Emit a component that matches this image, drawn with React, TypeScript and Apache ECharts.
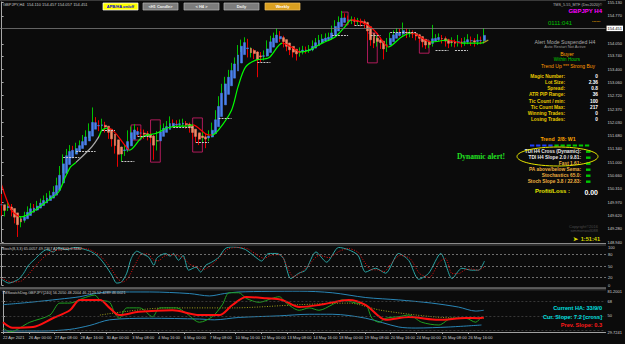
import React, { useEffect, useRef } from 'react';
import * as echarts from 'echarts';

// ---------- DATA ----------
const opens = [
  150.10,149.70,149.82,149.88,149.66,149.50,149.40,149.52,149.64,149.74,
  149.85,149.80,149.92,149.96,150.04,150.10,150.16,150.28,150.50,150.80,
  151.10,151.22,151.32,151.30,151.38,151.46,151.58,151.70,151.86,152.05,
  151.98,151.92,151.97,151.85,151.70,151.52,151.37,151.12,151.30,151.34,
  151.70,151.80,151.84,151.76,151.74,151.70,151.66,151.62,151.37,151.70,
  151.84,151.88,151.92,152.02,151.98,151.97,151.99,152.00,151.94,151.84,
  151.72,151.63,151.58,151.66,151.62,151.71,151.92,152.25,152.62,152.93,
  153.10,153.26,153.45,153.60,153.91,154.05,154.12,153.78,153.85,153.78,
  153.73,153.70,153.78,154.04,154.15,154.22,154.30,154.18,154.04,153.95,
  153.86,153.83,153.80,153.86,153.91,153.88,153.91,154.04,154.10,154.17,
  154.17,154.20,154.22,154.43,154.55,154.64,154.74,154.70,154.64,154.66,
  154.61,154.64,154.60,154.56,154.22,154.10,154.04,154.17,154.02,153.91,
  154.12,154.25,154.30,154.35,154.33,154.38,154.30,154.32,154.30,154.22,
  154.17,154.04,154.00,154.04,154.17,154.20,154.22,154.17,154.10,154.04,
  154.09,154.05,154.12,154.08,154.12,154.17,154.12,154.09,154.17,154.110,
];
const highs = [
  150.18,149.90,149.98,149.92,149.74,149.58,149.60,149.72,149.86,149.94,
  149.92,150.00,150.06,150.14,150.20,150.26,150.38,150.60,150.90,151.20,
  151.34,151.44,151.42,151.50,151.56,151.70,151.82,152.00,152.41,152.16,
  152.08,152.12,152.04,151.92,151.78,151.60,151.44,151.40,151.46,151.82,
  151.92,151.98,151.90,151.86,151.84,151.80,151.76,151.70,151.80,151.96,
  152.00,152.06,152.18,152.10,152.08,152.10,152.12,152.06,152.02,151.90,
  151.80,151.72,151.78,151.74,151.82,152.02,152.34,152.70,153.02,153.20,
  153.38,153.56,153.70,154.02,154.16,154.22,154.18,153.96,153.92,153.86,
  153.84,153.88,154.14,154.26,154.34,154.45,154.38,154.26,154.10,154.02,
  153.96,153.92,153.96,154.00,153.98,154.02,154.14,154.20,154.28,154.30,
  154.32,154.34,154.52,154.66,154.76,154.90,154.84,154.78,154.76,154.74,
  154.72,154.70,154.68,154.62,154.30,154.20,154.26,154.22,154.10,154.20,
  154.34,154.40,154.46,154.44,154.60,154.44,154.42,154.40,154.36,154.30,
  154.24,154.12,154.14,154.54,154.30,154.32,154.28,154.24,154.18,154.22,
  154.16,154.28,154.20,154.22,154.30,154.24,154.20,154.30,154.24,154.457,
];
const lows = [
  149.62,149.60,149.74,149.60,149.42,149.07,149.32,149.44,149.58,149.66,
  149.70,149.74,149.84,149.90,149.96,150.02,150.08,150.20,150.44,150.72,
  151.00,151.12,151.18,151.22,151.30,151.38,151.50,151.62,151.78,151.88,
  151.80,151.84,151.76,151.60,151.40,151.22,150.88,151.02,151.16,151.26,
  151.62,151.70,151.66,151.64,151.60,151.56,151.50,151.06,151.30,151.62,
  151.76,151.80,151.86,151.90,151.88,151.90,151.92,151.86,151.76,151.60,
  151.50,151.44,151.50,151.36,151.54,151.64,151.86,152.18,152.54,152.84,
  153.02,153.18,153.38,153.52,153.84,153.94,153.70,153.70,153.66,153.19,
  153.58,153.62,153.72,153.96,154.08,154.14,154.10,153.96,153.86,153.76,
  153.70,153.62,153.72,153.78,153.80,153.82,153.86,153.98,154.02,154.06,
  154.10,154.12,154.16,154.36,154.48,154.58,154.60,154.54,154.56,154.52,
  154.54,154.50,154.46,154.14,154.00,153.94,153.98,153.92,153.65,153.84,
  154.06,154.18,154.22,154.24,154.26,154.20,154.22,154.20,154.14,154.08,
  153.96,153.92,153.94,153.98,154.10,154.12,154.06,153.98,153.94,153.98,
  153.96,153.98,153.96,154.00,154.04,154.00,153.98,154.02,154.04,154.057,
];
const closes = [
  149.70,149.82,149.88,149.66,149.50,149.40,149.52,149.64,149.74,149.85,
  149.80,149.92,149.96,150.04,150.10,150.16,150.28,150.50,150.80,151.10,
  151.22,151.32,151.30,151.38,151.46,151.58,151.70,151.86,152.05,151.98,
  151.92,151.97,151.85,151.70,151.52,151.37,151.12,151.30,151.34,151.70,
  151.80,151.84,151.76,151.74,151.70,151.66,151.62,151.37,151.70,151.84,
  151.88,151.92,152.02,151.98,151.97,151.99,152.00,151.94,151.84,151.72,
  151.63,151.58,151.66,151.62,151.71,151.92,152.25,152.62,152.93,153.10,
  153.26,153.45,153.60,153.91,154.05,154.12,153.78,153.85,153.78,153.73,
  153.70,153.78,154.04,154.15,154.22,154.30,154.18,154.04,153.95,153.86,
  153.83,153.80,153.86,153.91,153.88,153.91,154.04,154.10,154.17,154.17,
  154.20,154.22,154.43,154.55,154.64,154.74,154.70,154.64,154.66,154.61,
  154.64,154.60,154.56,154.22,154.10,154.04,154.17,154.02,153.91,154.12,
  154.25,154.30,154.35,154.33,154.38,154.30,154.32,154.30,154.22,154.17,
  154.04,154.00,154.04,154.17,154.20,154.22,154.17,154.10,154.04,154.09,
  154.05,154.12,154.08,154.12,154.17,154.12,154.09,154.17,154.11,154.451,
];

// moving average: [bar, price]
const maPoints = [
  [0,150.41],[3,149.77],[6,149.59],[9,149.69],[14.5,150.02],[17.6,150.23],[19.7,150.62],[21.3,150.88],
  [22.8,150.98],[27.8,151.39],[30,151.65],[31,151.83],[33,151.88],[38.5,151.39],[39.5,151.31],[43.5,151.65],
  [48,151.75],[51,151.88],[55,151.93],[57,151.93],[59,151.96],[64,151.70],[65,151.70],[67,151.83],
  [71,152.34],[73,152.94],[75.3,153.45],[78.5,153.63],[82.5,153.69],[86.7,154.07],[91,153.89],[92,153.84],
  [95,153.89],[99,154.07],[103,154.23],[106,154.49],[108,154.67],[113,154.54],[115.5,154.36],[117.4,154.15],
  [119.4,153.97],[123.5,154.23],[126.5,154.33],[132.7,154.10],[138,154.15],[142,154.07],[148,154.07],[150.3,154.15],
];
// MA trend changes: [fromBar, trend]
const maTrend = [
  [0,'down'],[5.5,'up'],[23,'flat'],[30,'up'],[33,'down'],[39.5,'up'],[59,'down'],[65,'up'],[86.7,'down'],
  [92,'up'],[108,'down'],[119.4,'up'],[126.5,'down'],[132.7,'up'],[138,'down'],[142,'up'],[148.5,'end'],
];
// short horizontal levels: [fromBar, toBar, price]
const levelSegs = [
  [23,29,151.29],[37,41,151.03],[19,24,151.13],[31,35,151.83],[60,64,151.52],[67,71,152.14],[42,46,151.67],
  [53,59,151.91],[79,83,153.58],[109,112,154.54],[114,117,154.28],[134,138,153.89],[140,144,153.89],
  [120,128,154.36],[102,107,154.28],
];
// brackets: [fromBar, toBar, low, high]
const brackets = [
  [40,43,151.57,151.96],[46,49,151.0,152.09],[59,62,151.26,152.14],[105,107,154.54,154.87],
  [113,116,153.56,154.33],[129,132,153.81,154.15],
];

const stochMain = [
  [0,15],[2.2,5],[5.2,15],[6.8,31],[8.3,52],[10.5,70],[12,83],[13.9,93],[16,87],[17.6,98],[19.8,93],[22.8,99],
  [25.9,93],[27.8,87],[30,73],[32,52],[34,26],[35.5,5],[37,8],[38.6,31],[40,70],[41.7,89],[43.2,83],[45.4,73],
  [47,52],[47.8,70],[49,78],[50.6,83],[52,76],[53,83],[54.6,65],[56,78],[57.7,39],[60,47],[61.4,34],[63,52],
  [64.8,60],[67,73],[69,96],[71,100],[73,99],[75.3,93],[78.4,73],[80.2,63],[82.4,83],[84.9,83],[87,70],[89.2,17],
  [91.7,31],[93.8,39],[97,87],[100.3,60],[104,99],[107,93],[110,78],[112.3,34],[115.4,44],[118.5,31],[122.5,83],
  [125.6,65],[128.7,15],[131.8,31],[135.5,83],[139,17],[142,44],[145,39],[147.2,39],[149,63],
];
const stochSignal = [
  [0,18],[3,8],[6,10],[8,25],[10,45],[12,65],[14,80],[16,90],[18,92],[20,96],[23,96],[26,96],[28,90],[30,80],
  [32,63],[34,40],[36,15],[37.5,8],[39,18],[41,50],[43,80],[45,82],[47,65],[48.5,64],[50,75],[52,80],[54,78],
  [56,72],[58,55],[60,48],[62,40],[64,48],[66,62],[68,80],[70,95],[73,99],[76,95],[79,78],[81,70],[83,78],
  [86,80],[88,50],[90,22],[92,30],[95,55],[98,78],[101,72],[104,88],[107,96],[110,86],[112,60],[114,40],
  [116,40],[118,35],[120,55],[123,78],[126,70],[129,30],[132,20],[135,60],[137,70],[139,30],[141,30],[143,40],
  [145,42],[147,39],[149,48],
];
const stochLevels = [80, 50, 20];

const tmsUpper = [[0,64],[8.3,67],[17.6,71],[23.8,74],[28.4,78],[33,80],[45.4,80],[57.7,78],[63.9,75],[68.5,78],[73,80],[91.7,81],[101.9,79],[112.3,73],[122.5,70],[132.7,66],[141,61],[146.3,56],[148.8,57]];
const tmsLower = [[0,31],[12,31],[20.7,33],[26.9,38],[33,45],[45.4,47],[60.8,46],[65.4,45],[73,48],[85.5,50],[94.8,52],[101.9,52],[112.3,47],[122.5,36],[127.8,34.7],[138,36],[148.1,38.5]];
const tmsRed = [[0,42],[3,35],[9.3,36],[15.4,47],[20.7,57],[23.8,70],[30,70],[33,60],[36,51],[42,55],[52.5,57],[60.8,51],[67,51],[71,63.6],[75.3,73.7],[81.5,72],[86.4,70],[91.7,61],[97.8,63.6],[107,70],[112.3,63.6],[118.5,45],[125.6,48.6],[134.9,45],[143.2,47.3],[147.2,47],[148.8,48]];
const tmsGreen = [[0,35],[2.2,30],[8.3,42],[14.5,51],[17.6,66],[20.7,66],[24.7,72],[28.4,76],[30,70],[33,67],[34.6,53],[36,47],[38.3,60],[42.3,60],[46.3,49],[48.5,60],[53.7,60],[56.8,53],[60.8,42],[64.8,49],[67.9,64],[70,79],[73,79],[75.3,72],[79.3,67],[83.3,72],[85.5,74],[87.7,66],[91.7,57],[94.8,60],[97.8,57],[101.9,64],[105,70],[109.3,66],[112.3,64],[114.2,47],[116.4,42],[118.5,47],[122.5,49],[125.6,51],[129.6,42],[134.9,38.5],[138.9,47],[143.2,47],[146.3,42],[148.1,49]];
const tmsYellow = [[30,51],[50.6,60],[71,60],[91.7,64],[107,66],[117,57],[132.7,49],[143.2,47],[148.8,47]];
const tmsLevels = [68, 50, 32];

const priceTicks = [155.13,154.77,154.05,153.74,153.40,153.06,152.72,152.37,152.03,151.68,151.34,151.00,150.66,150.31,149.97,149.62,149.28,148.94];
const stochTicks = [100, 80, 50, 20, 0];
const tmsTicks = [81.2001, 68, 50, 29.7241];
const xTickLabels = ['22 Apr 2021','26 Apr 00:00','27 Apr 08:00','28 Apr 16:00','30 Apr 00:00','3 May 08:00','4 May 16:00','6 May 00:00','7 May 08:00','10 May 16:00','12 May 00:00','13 May 08:00','14 May 16:00','18 May 00:00','19 May 08:00','20 May 16:00','24 May 00:00','25 May 08:00','26 May 16:00'];
const BARS_PER_LABEL = 8;
const SLOTS = 187;

const infoLabels = ['Magic Number:','Lot Size:','Spread:','ATR PIP Range:','Tic Count / min:','Tic Count Max:','Winning Trades:','Losing Trades:'];
const infoValues = ['0','2.36','0.8','36','100','217','0','0'];
const signalRows = ['TDI H4 Cross (Dynamic):','TDI H4 Slope 2.0 / 9.81:','Fast 1.61:','PA above/below Sema:','Stochastics 65.0:','Stoch Slope 3.8 / 22.83:'];
const trendBoxes = ['b','b','b','b','g','g','g','g','g','g'];

// ---------- CHART ----------
const F = 'Liberation Sans, Arial, Helvetica, sans-serif';
const BG = '#0b0b0b';

function T(x: number, y: number, text: string, fill: string, fontSize: number, extra: any = {}) {
  const align = extra.align || 'left';
  return {
    type: 'text', x, y, silent: true, z: 100,
    style: {
      text, fill, fontSize, fontFamily: extra.fontFamily || F, fontWeight: extra.fontWeight || 'normal',
      align, textAlign: align, verticalAlign: 'middle', textVerticalAlign: 'middle',
    },
  };
}
function R(x: number, y: number, w: number, h: number, fill: string, stroke?: string) {
  return { type: 'rect', silent: true, z: 99, shape: { x, y, width: w, height: h }, style: { fill, stroke: stroke || null, lineWidth: stroke ? 0.7 : 0 } };
}
function L(x1: number, y1: number, x2: number, y2: number, stroke: string, w = 1) {
  return { type: 'line', silent: true, z: 99, shape: { x1, y1, x2, y2 }, style: { stroke, lineWidth: w } };
}

function buildOption() {
  const n = closes.length;
  const real = [] as number[][];
  const ha = [] as number[][];
  let pO = 0, pC = 0;
  for (let i = 0; i < n; i++) {
    const o = opens[i], h = highs[i], l = lows[i], c = closes[i];
    real.push([o, c, l, h]);
    const hc = (o + h + l + c) / 4;
    const ho = i === 0 ? (o + c) / 2 : (pO + pC) / 2;
    ha.push([ho, hc, Math.min(ho, hc), Math.max(ho, hc)]);
    pO = ho; pC = hc;
  }
  const cats = Array.from({ length: SLOTS }, (_, i) => String(i));
  const trendColor: any = { up: '#00ff00', down: '#ff0000', flat: '#a8a8a8', end: '#a0a020' };
  const pieces = maTrend.map((t, k) => ({
    gte: t[0] as number,
    lt: k < maTrend.length - 1 ? (maTrend[k + 1][0] as number) : 999,
    color: trendColor[t[1] as string],
  }));
  const last = closes[n - 1];
  const xVals = xTickLabels.map((_, k) => k * BARS_PER_LABEL);
  const axisLbl = { fontSize: 4, color: '#d0d0d0', fontFamily: F, margin: 2 };

  const graphics: any[] = [
    R(0, 0, 606, 1, '#3a3a3a'),
    R(0, 243, 606, 3, '#2e2e2e'), L(0, 243.5, 606, 243.5, '#8a8a8a'),
    R(0, 287.5, 606, 3, '#2e2e2e'), L(0, 288, 606, 288, '#8a8a8a'),
    T(3, 4.8, 'GBPJPY,H4  154.110 154.457 154.057 154.451', '#c8c8c8', 4),
    R(103, 3, 35, 7, '#ffff00', '#ffffff'), T(120.5, 6.6, 'APB/HA on/off', '#0000d0', 4, { align: 'center', fontWeight: 'bold' }),
    R(143, 3, 35, 7, '#7c7c7c', '#b4b4b4'), T(160.5, 6.6, '<H1 Candle>', '#f0f0f0', 4, { align: 'center', fontWeight: 'bold' }),
    R(184, 3, 35, 7, '#7c7c7c', '#b4b4b4'), T(201.5, 6.6, '< H4 >', '#f0f0f0', 4, { align: 'center', fontWeight: 'bold' }),
    R(224, 3, 35, 7, '#7c7c7c', '#b4b4b4'), T(241.5, 6.6, 'Daily', '#f0f0f0', 4, { align: 'center', fontWeight: 'bold' }),
    R(265, 3, 35, 7, '#daa020', '#f0c060'), T(282.5, 6.6, 'Weekly', '#ffffff', 4, { align: 'center', fontWeight: 'bold' }),
    T(602, 5, 'TMS_5.55_MTF (Dec2020)©', '#b8b8b8', 3.8, { align: 'right' }),
    T(602, 10.8, 'GBPJPY H4', '#ff00ff', 6, { align: 'right', fontWeight: 'bold' }),
    T(548, 23, '0111:041', '#00c000', 6),
    T(592, 20, '......', '#e0a000', 5, { fontWeight: 'bold' }),
    T(565, 42, 'Alert Mode Suspended H4', '#a8a8a8', 5.2, { align: 'center' }),
    T(565, 46.8, 'Auto Restart Not Active', '#9a9a9a', 4, { align: 'center' }),
    T(567, 54, 'Buyer', '#ffa500', 5.2, { align: 'center' }),
    T(567, 59.5, 'Within Hours', '#00d000', 4.6, { align: 'center' }),
    T(568, 66, 'Trend Up *** Strong Buy', '#ff9900', 5, { align: 'center' }),
    T(558, 138.5, 'Trend  2/8: W1', '#ffa500', 5.2, { align: 'center', fontWeight: 'bold' }),
    { type: 'ellipse', silent: true, z: 101, shape: { cx: 557.5, cy: 156.5, rx: 40.5, ry: 9.5 }, style: { fill: 'none', stroke: '#e6e600', lineWidth: 1 } },
    T(535, 191, 'Profit/Loss :', '#e6e600', 6, { fontWeight: 'bold' }),
    T(598, 192.5, '0.00', '#ffffff', 7, { align: 'right', fontWeight: 'bold' }),
    T(505, 156.5, 'Dynamic alert!', '#22e022', 7.5, { align: 'right', fontWeight: 'bold', fontFamily: 'Liberation Serif, Times New Roman, serif' }),
    T(598, 226.5, 'Copyright©2016', '#4a4a4a', 4, { align: 'right' }),
    T(598, 230.8, 'simmonwall088', '#4a4a4a', 4, { align: 'right' }),
    T(600, 239, '➤  1:51:41', '#d8d800', 5.6, { align: 'right', fontWeight: 'bold' }),
    T(2, 248.5, 'Stoch(8,3,3) 65.0057 49.7367 ATR(300) 0.3462', '#c8c8c8', 3.8),
    T(2, 292.8, 'TMSwatchDog-GBPJPY[240] 56.2050 48.2004 46.2129 52.4289 46.0021', '#c8c8c8', 3.8),
    T(602, 308, 'Current HA: 33/9/0', '#00e0e0', 5.6, { align: 'right', fontWeight: 'bold' }),
    T(602, 316.5, 'Cur. Slope: 7.2 [cross]', '#00e0e0', 5.6, { align: 'right', fontWeight: 'bold' }),
    T(602, 324.5, 'Prev. Slope: 0.3', '#ff1a1a', 5.6, { align: 'right', fontWeight: 'bold' }),
  ];
  const infoY0 = 76.5, infoDy = 6.15;
  infoLabels.forEach((s, k) => {
    graphics.push(T(565, infoY0 + k * infoDy, s, '#e8c800', 4.8, { align: 'right', fontWeight: 'bold' }));
    graphics.push(T(598, infoY0 + k * infoDy, infoValues[k], '#ffffff', 4.8, { align: 'right', fontWeight: 'bold' }));
  });
  trendBoxes.forEach((c, k) => graphics.push(R(530 + k * 6.1, 144.5, 4.3, 2, c === 'b' ? '#1e40ff' : '#00c800')));
  const rowY0 = 151.7, rowDy = 6.0;
  signalRows.forEach((s, k) => {
    graphics.push(T(581, rowY0 + k * rowDy, s, k < 2 ? '#e8e8e8' : '#f0b040', 4.8, { align: 'right', fontWeight: 'bold' }));
    graphics.push(R(586, rowY0 + k * rowDy - 1.2, 4.5, 2.4, '#00c800'));
  });

  return {
    backgroundColor: BG,
    animation: false,
    textStyle: { fontFamily: F },
    grid: [
      { left: 0, top: 2, width: 606, height: 240 },
      { left: 0, top: 247, width: 606, height: 38 },
      { left: 0, top: 291, width: 606, height: 41 },
    ],
    visualMap: [{
      type: 'piecewise', show: false, dimension: 0, seriesIndex: 2, pieces, outOfRange: { color: '#a0a0a0' },
    }],
    xAxis: [
      { type: 'category', gridIndex: 0, data: cats, boundaryGap: true, show: false },
      { type: 'value', gridIndex: 0, min: -0.5, max: SLOTS - 0.5, show: false },
      { type: 'value', gridIndex: 1, min: -0.5, max: SLOTS - 0.5, show: false },
      {
        type: 'value', gridIndex: 2, min: -0.5, max: SLOTS - 0.5, splitLine: { show: false },
        axisLine: { show: true, lineStyle: { color: '#a0a0a0', width: 1 } },
        axisTick: { show: true, length: 2, customValues: xVals, lineStyle: { color: '#a0a0a0' } },
        axisLabel: { ...axisLbl, fontSize: 4, margin: 3, align: 'left', customValues: xVals,
          formatter: (v: number) => xTickLabels[Math.round(v / BARS_PER_LABEL)] || '' },
      },
    ],
    yAxis: [
      {
        type: 'value', gridIndex: 0, position: 'right', min: 148.94, max: 155.13, scale: true,
        splitLine: { show: false },
        axisLine: { show: true, lineStyle: { color: '#a8a8a8' } },
        axisTick: { show: true, inside: false, length: 2, customValues: priceTicks, lineStyle: { color: '#a8a8a8' } },
        axisLabel: { ...axisLbl, customValues: priceTicks, formatter: (v: number) => v.toFixed(3) },
      },
      {
        type: 'value', gridIndex: 1, position: 'right', min: 0, max: 100, splitLine: { show: false },
        axisLine: { show: true, lineStyle: { color: '#a8a8a8' } },
        axisTick: { show: true, length: 2, customValues: stochTicks, lineStyle: { color: '#a8a8a8' } },
        axisLabel: { ...axisLbl, customValues: stochTicks, formatter: (v: number) => String(v) },
      },
      {
        type: 'value', gridIndex: 2, position: 'right', min: 29.7241, max: 81.2001, splitLine: { show: false },
        axisLine: { show: true, lineStyle: { color: '#a8a8a8' } },
        axisTick: { show: true, length: 2, customValues: tmsTicks, lineStyle: { color: '#a8a8a8' } },
        axisLabel: { ...axisLbl, customValues: tmsTicks, formatter: (v: number) => String(v) },
      },
    ],
    series: [
      {
        type: 'candlestick', name: 'bars', xAxisIndex: 0, yAxisIndex: 0, data: real, barWidth: 1,
        itemStyle: { color: '#00c000', color0: '#e80000', borderColor: '#00c000', borderColor0: '#e80000', borderWidth: 1 },
        markLine: {
          silent: true, symbol: ['none', 'none'], label: { show: false },
          lineStyle: { color: '#c8c8c8', type: [2, 1], width: 1 },
          data: levelSegs.map((s) => [{ coord: [s[0], s[2]] }, { coord: [s[1], s[2]] }]),
        },
      },
      {
        type: 'candlestick', name: 'ha', xAxisIndex: 0, yAxisIndex: 0, data: ha, barWidth: 2.4,
        itemStyle: { color: '#4a80ec', color0: '#f28866', borderColor: '#4a80ec', borderColor0: '#f28866', borderWidth: 0.5 },
        markArea: {
          silent: true,
          itemStyle: { color: 'rgba(0,0,0,0)', borderColor: '#d8206e', borderWidth: 0.8 },
          data: brackets.map((b) => [{ coord: [b[0], b[3]] }, { coord: [b[1], b[2]] }]),
        },
      },
      {
        type: 'line', name: 'ma', xAxisIndex: 1, yAxisIndex: 0, data: maPoints, smooth: 0.3, showSymbol: false,
        lineStyle: { width: 1.2 },
        markLine: {
          silent: true, symbol: ['none', 'none'],
          lineStyle: { color: '#7a7a7a', width: 0.8, type: 'solid' },
          label: { show: true, position: 'end', distance: 1, formatter: () => last.toFixed(3),
            backgroundColor: '#ffffff', color: '#000000', fontSize: 4, padding: [1, 1, 0.5, 1], fontFamily: F },
          data: [{ yAxis: last }],
        },
      },
      {
        type: 'line', name: 'stoch', xAxisIndex: 2, yAxisIndex: 1, data: stochMain, smooth: 0.25, showSymbol: false,
        lineStyle: { width: 1, color: '#2aa4a4' }, itemStyle: { color: '#2aa4a4' },
        markLine: {
          silent: true, symbol: ['none', 'none'], label: { show: false },
          lineStyle: { color: '#9a9a9a', type: [2, 2], width: 0.7 },
          data: stochLevels.map((v) => ({ yAxis: v })),
        },
      },
      {
        type: 'line', name: 'stochSig', xAxisIndex: 2, yAxisIndex: 1, data: stochSignal, smooth: 0.25, showSymbol: false,
        lineStyle: { width: 1, color: '#e01010', type: [1, 1.5] }, itemStyle: { color: '#e01010' },
      },
      {
        type: 'line', name: 'upper', xAxisIndex: 3, yAxisIndex: 2, data: tmsUpper, smooth: 0.3, showSymbol: false,
        lineStyle: { width: 1, color: '#2a86b6' }, itemStyle: { color: '#2a86b6' },
        markLine: {
          silent: true, symbol: ['none', 'none'], label: { show: false },
          lineStyle: { color: '#4a4a4a', type: [2, 2], width: 0.7 },
          data: tmsLevels.map((v) => ({ yAxis: v })),
        },
      },
      {
        type: 'line', name: 'lower', xAxisIndex: 3, yAxisIndex: 2, data: tmsLower, smooth: 0.3, showSymbol: false,
        lineStyle: { width: 1, color: '#2a86b6' }, itemStyle: { color: '#2a86b6' },
      },
      {
        type: 'line', name: 'yellow', xAxisIndex: 3, yAxisIndex: 2, data: tmsYellow, smooth: 0.3, showSymbol: false,
        lineStyle: { width: 0.8, color: '#c8c820', type: [1, 1.5] }, itemStyle: { color: '#c8c820' },
      },
      {
        type: 'line', name: 'green', xAxisIndex: 3, yAxisIndex: 2, data: tmsGreen, smooth: 0.3, showSymbol: false,
        lineStyle: { width: 1, color: '#20a020' }, itemStyle: { color: '#20a020' },
      },
      {
        type: 'line', name: 'red', xAxisIndex: 3, yAxisIndex: 2, data: tmsRed, smooth: 0.3, showSymbol: false,
        lineStyle: { width: 2, color: '#ff1010' }, itemStyle: { color: '#ff1010' },
      },
    ],
    graphic: graphics,
  };
}

export default function App() {
  const ref = useRef<HTMLDivElement>(null);
  useEffect(() => {
    const chart = echarts.init(ref.current as HTMLDivElement, null, { renderer: 'svg', width: 625, height: 344 });
    chart.setOption(buildOption() as any);
    return () => chart.dispose();
  }, []);
  return (
    <div
      ref={ref}
      style={{ position: 'fixed', left: 0, top: 0, width: 625, height: 344, background: BG, overflow: 'hidden' }}
    />
  );
}
